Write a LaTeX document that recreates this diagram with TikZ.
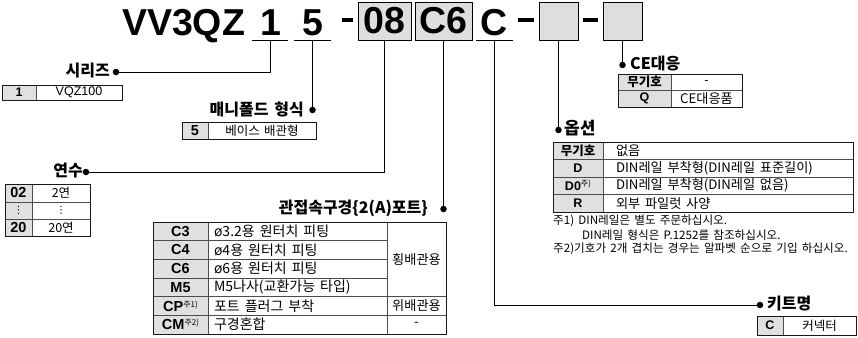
\documentclass[tikz,border=0pt]{standalone}
\usepackage{fontspec}
\setmainfont{Liberation Sans}
\newfontfamily\kr[WordSpace=1.6]{Noto Sans CJK KR}
\newfontfamily\dv{DejaVu Sans}
\tikzset{
  conn/.style={line width=0.9pt, draw=black},
  dashbar/.style={line width=3.6pt, draw=black},
  dotmark/.style={circle, fill=black, inner sep=0pt, minimum size=6.5pt},
  ttext/.style={font=\fontsize{37.5}{40}\selectfont\bfseries, inner sep=0pt, anchor=base},
  tbox/.style={draw=black, line width=0.9pt, fill=black!13, inner sep=0pt,
    font=\fontsize{37.5}{40}\selectfont\bfseries},
  lbl/.style={font=\kr\bfseries\fontsize{16}{17}\selectfont, inner sep=0pt},
  cellc/.style={draw=black!70, line width=0.5pt, inner sep=0pt, outer sep=0pt, align=center},
  codec/.style={cellc, fill=black!12, font=\bfseries\fontsize{12.5}{13}\selectfont},
  codebig/.style={cellc, fill=black!12, font=\bfseries\fontsize{14.5}{15}\selectfont},
  codekr/.style={cellc, fill=black!12, font=\kr\bfseries\fontsize{12.5}{13}\selectfont},
  desc/.style={cellc, font=\kr\fontsize{12.5}{13}\selectfont},
  descl/.style={cellc, font=\fontsize{12.5}{13}\selectfont},
  portd/.style={cellc, font=\kr\fontsize{14}{15}\selectfont},
  optd/.style={cellc, font=\kr\fontsize{13.2}{14}\selectfont},
  note/.style={font=\kr\fontsize{11.6}{12}\selectfont, inner sep=0pt, anchor=west},
  frame/.style={draw=black!90, line width=0.9pt},
}
\newcommand\mycell[7]{%
  \node[#6, minimum width={(#4-#2)*1pt}, minimum height={(#5-#3)*1pt}] (#1) at ({(#2+#4)/2},{(#3+#5)/2}) {#7};}
\newcommand\lcell[8]{%
  \node[#6, minimum width={(#4-#2)*1pt}, minimum height={(#5-#3)*1pt}] (#1) at ({(#2+#4)/2},{(#3+#5)/2}) {};%
  \node[#6, draw=none, fill=none, anchor=west, inner sep=0pt] (#1t) at ([xshift=#7pt]#1.west) {#8};}
\newcommand\smallsup[1]{\raisebox{4pt}{\kr\mdseries\fontsize{8}{8}\selectfont #1}}
\begin{document}
\begin{tikzpicture}[x=1pt,y=-1pt]
\useasboundingbox (0,0) rectangle (858,337);

% ---- title ----
\node[ttext] (vv) at (183.5,36) {VV3QZ};
\node[ttext] (n1) at (270.5,36) {1};
\node[ttext] (n5) at (312.5,36) {5};
\node[tbox, minimum width=53pt, minimum height=38pt] (b08) at (384.5,21) {08};
\node[tbox, minimum width=57pt, minimum height=38pt] (bc6) at (443.5,21) {C6};
\node[ttext] (nc) at (494.5,36) {C};
\node[tbox, minimum width=39pt, minimum height=38pt] (be1) at (558.5,21) {};
\node[tbox, minimum width=39pt, minimum height=38pt] (be2) at (622.5,21) {};
\draw[dashbar] (342,20) -- (353,20);
\draw[dashbar] (518,20) -- (534,20);
\draw[dashbar] (583,20) -- (598,20);
\draw[conn] (252,40) -- (288,40);
\draw[conn] (294,40) -- (331,40);
\draw[conn] (476,40) -- (513,40);

% ---- 시리즈 ----
\coordinate (s1) at (270.5,40);
\node[dotmark] (d1) at (116,72) {};
\draw[conn] (s1) |- (d1);
\node[lbl, anchor=east] (l1) at (110,71) {시리즈};
\mycell{t1a}{2}{85}{36}{100}{codec}{1}
\mycell{t1b}{36}{85}{122}{100}{descl}{VQZ100}
\draw[frame] (t1a.north west) rectangle (t1b.south east);

% ---- 매니폴드 형식 ----
\coordinate (s5) at (312.5,40);
\node[dotmark] (d5) at (312.5,110) {};
\draw[conn] (s5) -- (d5);
\node[lbl, anchor=east] (l5) at (304,109) {매니폴드 형식};
\mycell{t5a}{182}{122}{208}{139}{codebig}{5}
\mycell{t5b}{208}{122}{316}{139}{desc}{베이스 배관형}
\draw[frame] (t5a.north west) rectangle (t5b.south east);

% ---- 연수 ----
\node[dotmark] (d8) at (86,172) {};
\draw[conn] (b08.south) |- (d8);
\node[lbl, anchor=east] (l8) at (83,171) {연수};
\mycell{t8a}{5}{184}{32}{202}{codebig}{02}
\mycell{t8b}{32}{184}{90}{202}{desc}{2연}
\mycell{t8c}{5}{202}{32}{219}{codebig}{\dv\mdseries\fontsize{10}{10}\selectfont ⋮}
\mycell{t8d}{32}{202}{90}{219}{desc}{\dv\fontsize{10}{10}\selectfont ⋮}
\mycell{t8e}{5}{219}{32}{236}{codebig}{20}
\mycell{t8f}{32}{219}{90}{236}{desc}{20연}
\draw[frame] (t8a.north west) rectangle (t8f.south east);

% ---- 관접속구경 ----
\node[dotmark] (dc6) at (443.5,209) {};
\draw[conn] (bc6.south) -- (dc6);
\node[lbl, anchor=east] (lc6) at (428,208) {관접속구경\{2(A)포트\}};
\mycell{p1a}{153}{222}{208}{240.67}{codebig}{C3}
\lcell{p1b}{208}{222}{387}{240.67}{portd}{6}{ø3.2용 원터치 피팅}
\mycell{p2a}{153}{240.67}{208}{259.33}{codebig}{C4}
\lcell{p2b}{208}{240.67}{387}{259.33}{portd}{6}{ø4용 원터치 피팅}
\mycell{p3a}{153}{259.33}{208}{278}{codebig}{C6}
\lcell{p3b}{208}{259.33}{387}{278}{portd}{6}{ø6용 원터치 피팅}
\mycell{p4a}{153}{278}{208}{296.67}{codebig}{M5}
\lcell{p4b}{208}{278}{387}{296.67}{portd}{6}{M5나사(교환가능 타입)}
\mycell{p5a}{153}{296.67}{208}{315.33}{codebig}{CP\smallsup{주1)}}
\lcell{p5b}{208}{296.67}{387}{315.33}{portd}{6}{포트 플러그 부착}
\mycell{p6a}{153}{315.33}{208}{334}{codebig}{CM\smallsup{주2)}}
\lcell{p6b}{208}{315.33}{387}{334}{portd}{6}{구경혼합}
\mycell{p1c}{387}{222}{446}{296.67}{optd}{횡배관용}
\mycell{p5c}{387}{296.67}{446}{315.33}{optd}{위배관용}
\mycell{p6c}{387}{315.33}{446}{334}{optd}{-}
\draw[frame] (p1a.north west) rectangle (p6c.south east);

% ---- 키트명 ----
\node[dotmark] (dk) at (760,305) {};
\draw[conn] (nc |- 0,40) |- (dk);
\node[lbl, anchor=west] (lk) at (767,304) {키트명};
\mycell{k1a}{757}{316}{783}{335}{codec}{C}
\mycell{k1b}{783}{316}{856}{335}{desc}{커넥터}
\draw[frame] (k1a.north west) rectangle (k1b.south east);

% ---- 옵션 ----
\node[dotmark] (dop) at (558.5,130) {};
\draw[conn] (be1.south) -- (dop);
\node[lbl, anchor=west, font=\kr\bfseries\fontsize{17}{18}\selectfont] (lop) at (564,128.5) {옵션};
\mycell{o1a}{553}{142}{603}{159.5}{codekr}{무기호}
\lcell{o1b}{603}{142}{853}{159.5}{optd}{13}{없음}
\mycell{o2a}{553}{159.5}{603}{177}{codec}{D}
\lcell{o2b}{603}{159.5}{853}{177}{optd}{13}{DIN레일 부착형(DIN레일 표준길이)}
\mycell{o3a}{553}{177}{603}{194.5}{codec}{D0\smallsup{주)}}
\lcell{o3b}{603}{177}{853}{194.5}{optd}{13}{DIN레일 부착형(DIN레일 없음)}
\mycell{o4a}{553}{194.5}{603}{212}{codec}{R}
\lcell{o4b}{603}{194.5}{853}{212}{optd}{13}{외부 파일럿 사양}
\draw[frame] (o1a.north west) rectangle (o4b.south east);
\node[note] (nt1) at (553,221) {주1) DIN레일은 별도 주문하십시오.};
\node[note] (nt2) at (582,235) {DIN레일 형식은 P.1252를 참조하십시오.};
\node[note] (nt3) at (553,249) {주2)기호가 2개 겹치는 경우는 알파벳 순으로 기입 하십시오.};

% ---- CE대응 ----
\node[dotmark] (dce) at (622.5,65) {};
\draw[conn] (be2.south) -- (dce);
\node[lbl, anchor=west] (lce) at (630,64) {CE대응};
\mycell{c1a}{618}{74}{671}{90.5}{codekr}{무기호}
\mycell{c1b}{671}{74}{742}{90.5}{desc}{-}
\mycell{c2a}{618}{90.5}{671}{107}{codec}{Q}
\mycell{c2b}{671}{90.5}{742}{107}{optd}{CE대응품}
\draw[frame] (c1a.north west) rectangle (c2b.south east);
\end{tikzpicture}
\end{document}
